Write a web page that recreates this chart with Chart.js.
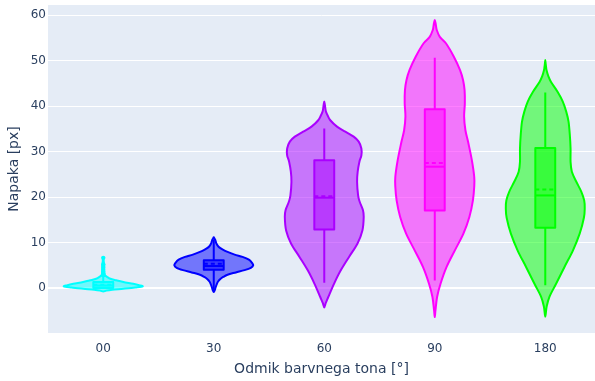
<!DOCTYPE html>
<html lang="sl">
<head>
  <meta charset="UTF-8">
  <title>Napaka glede na odmik barvnega tona</title>
  <script src="https://cdn.jsdelivr.net/npm/chart.js"></script>
  <style>
    body {
      margin: 0;
      background-color: white;
    }
  </style>
</head>
<body>

  <canvas id="violinChart" width="595" height="381"></canvas>

  <script>
    // Kategorije in barve
    const kategorije = ['00', '30', '60', '90', '180'];
    const barve = ['#00FFFF', '#0000FF', '#AA00FF', '#FF00FF', '#00FF00'];

    // Oblike violin: vrednosti napake (od zgoraj navzdol) in relativna polovična širina
    const violinY00 = [6.7, 6.0, 5.0, 4.0, 3.0, 2.5, 2.1, 1.76, 1.4, 1.0, 0.7, 0.44, 0.2, -0.07, -0.3, -0.5, -0.7];
    const violinW00 = [0, .013, .013, .015, .038, .10, .18, .33, .51, .76, .91, 1, .81, .51, .23, .08, 0];
    const violinY30 = [11.2, 10.9, 10.6, 10.0, 9.5, 9.0, 8.5, 8.0, 7.4, 6.9, 6.3, 5.6, 5.05, 4.5, 4.0, 3.5, 3.0, 2.5, 2.0, 1.5, 1.0, 0.3, -0.3, -0.6, -0.8];
    const violinW30 = [0, .02, .04, .06, .09, .14, .23, .35, .53, .73, .89, .97, 1, .94, .78, .56, .35, .24, .16, .11, .08, .05, .03, .015, 0];
    const violinY60 = [41.0, 40.3, 39.5, 38.8, 37.9, 36.9, 35.5, 34.4, 33.3, 32.2, 30.7, 29.2, 27.8, 25.6, 23.4, 20.4, 19.0, 17.2, 15.7, 12.7, 9.8, 6.9, 3.9, 1.0, -1.9, -3.2, -4.2];
    const violinW60 = [0, .015, .028, .043, .089, .153, .323, .534, .746, .873, .941, .941, .891, .847, .832, .858, .898, .98, 1, .967, .84, .628, .415, .247, .102, .038, 0];
    const violinY90 = [58.9, 58.3, 57.5, 56.7, 55.2, 53.8, 50.8, 47.9, 45.7, 43.5, 40.6, 37.7, 34.7, 31.8, 28.1, 24.5, 22.3, 19.3, 15.7, 12.0, 8.4, 4.7, 1.0, -1.9, -4.8, -6.3];
    const violinW90 = [0, .018, .033, .051, .128, .282, .487, .641, .718, .756, .762, .744, .777, .854, .941, 1, 1, .967, .879, .726, .513, .3, .146, .059, .018, 0];
    const violinY180 = [50.1, 49.3, 48.6, 47.9, 46.6, 45.3, 43.1, 41.0, 38.8, 36.6, 33.6, 30.7, 27.8, 25.6, 23.4, 21.2, 19.3, 17.6, 15.5, 12.0, 8.3, 4.7, 1.0, -1.9, -4.1, -6.2];
    const violinW180 = [0, .01, .02, .033, .077, .146, .315, .444, .531, .59, .623, .641, .641, .674, .787, .915, .987, 1, .979, .872, .7, .487, .274, .103, .033, 0];

    // Statistika škatel
    const q1 = [0.1, 4.1, 12.9, 17.1, 13.3];
    const mediana = [0.6, 4.9, 19.9, 26.7, 20.4];
    const povprecje = [0.8, 5.4, 20.2, 27.5, 21.7];
    const q3 = [1.4, 6.15, 28.1, 39.3, 30.8];
    const brkDol = [-0.1, -0.5, 1.25, 1.75, 0.66];
    const brkGor = [2.6, 10.6, 35.1, 50.6, 43.0];

    // Osamelci pri 00
    const osamelci00 = [2.9, 3.3, 3.7, 4.1, 4.5, 4.9, 5.3, 6.7];

    const violinY = [violinY00, violinY30, violinY60, violinY90, violinY180];
    const violinW = [violinW00, violinW30, violinW60, violinW90, violinW180];

    const SIRINA = 0.357;   // največja polovična širina violine (v enotah kategorije)
    const SKATLA = 0.09;    // polovična širina škatle
    const besedilo = '#2a3f5f';

    function rgba(hex, a) {
      const n = parseInt(hex.slice(1), 16);
      return `rgba(${n >> 16},${(n >> 8) & 255},${n & 255},${a})`;
    }

    // zaprta gladka krivulja skozi vse točke
    function krivulja(ctx, pts) {
      const n = pts.length;
      ctx.moveTo(pts[0][0], pts[0][1]);
      for (let k = 0; k < n; k++) {
        const p0 = pts[(k - 1 + n) % n], p1 = pts[k], p2 = pts[(k + 1) % n], p3 = pts[(k + 2) % n];
        ctx.bezierCurveTo(
          p1[0] + (p2[0] - p0[0]) / 6, p1[1] + (p2[1] - p0[1]) / 6,
          p2[0] - (p3[0] - p1[0]) / 6, p2[1] - (p3[1] - p1[1]) / 6,
          p2[0], p2[1]);
      }
      ctx.closePath();
    }

    // brez dodatnega odmika zaradi oznak na robovih
    function brezOdmika(s) {
      s.paddingTop = 0;
      s.paddingBottom = 0;
      s.paddingLeft = 0;
      s.paddingRight = 0;
    }

    // risalna površina naj sega do desnega roba platna
    const doRoba = {
      id: 'doRoba',
      afterLayout(chart) {
        const x = chart.scales.x;
        chart.chartArea.right = chart.width;
        chart.chartArea.width = chart.chartArea.right - chart.chartArea.left;
        x.right = chart.width;
        x.width = x.right - x.left;
        x.configure();
      }
    };

    const ozadje = {
      id: 'ozadje',
      beforeDraw(chart) {
        const { ctx, chartArea: a } = chart;
        ctx.save();
        ctx.fillStyle = '#E5ECF6';
        ctx.fillRect(a.left, a.top, a.right - a.left, a.bottom - a.top);
        ctx.restore();
      }
    };

    const violine = {
      id: 'violine',
      beforeDatasetsDraw(chart) {
        const { ctx, chartArea: a, scales: { x, y } } = chart;
        ctx.save();
        ctx.beginPath();
        ctx.rect(a.left, a.top, a.right - a.left, a.bottom - a.top);
        ctx.clip();

        kategorije.forEach((kat, i) => {
          const ys = violinY[i], ws = violinW[i], barva = barve[i];
          const pts = [];
          for (let k = 0; k < ys.length; k++) {
            pts.push([x.getPixelForValue(i - ws[k] * SIRINA), y.getPixelForValue(ys[k])]);
          }
          for (let k = ys.length - 2; k > 0; k--) {
            pts.push([x.getPixelForValue(i + ws[k] * SIRINA), y.getPixelForValue(ys[k])]);
          }
          ctx.beginPath();
          krivulja(ctx, pts);
          ctx.fillStyle = rgba(barva, 0.5);
          ctx.fill();
          ctx.lineWidth = 2;
          ctx.strokeStyle = barva;
          ctx.lineJoin = 'round';
          ctx.stroke();

          // škatla z brki
          const xc = x.getPixelForValue(i);
          const xl = x.getPixelForValue(i - SKATLA), xr = x.getPixelForValue(i + SKATLA);
          const yq1 = y.getPixelForValue(q1[i]), yq3 = y.getPixelForValue(q3[i]);
          ctx.beginPath();
          ctx.moveTo(xc, yq3);
          ctx.lineTo(xc, y.getPixelForValue(brkGor[i]));
          ctx.moveTo(xc, yq1);
          ctx.lineTo(xc, y.getPixelForValue(brkDol[i]));
          ctx.stroke();

          ctx.fillStyle = rgba(barva, 0.5);
          ctx.fillRect(xl, yq3, xr - xl, yq1 - yq3);
          ctx.strokeRect(xl, yq3, xr - xl, yq1 - yq3);

          const ym = y.getPixelForValue(mediana[i]);
          ctx.beginPath();
          ctx.moveTo(xl, ym);
          ctx.lineTo(xr, ym);
          ctx.stroke();

          const yp = y.getPixelForValue(povprecje[i]);
          ctx.setLineDash([4, 3]);
          ctx.beginPath();
          ctx.moveTo(xl, yp);
          ctx.lineTo(xr, yp);
          ctx.stroke();
          ctx.setLineDash([]);
        });
        ctx.restore();
      }
    };

    Chart.defaults.font.family = '"DejaVu Sans", Verdana, Arial, sans-serif';

    new Chart(document.getElementById('violinChart'), {
      type: 'scatter',
      data: {
        datasets: [{
          data: osamelci00.map(v => ({ x: 0, y: v })),
          backgroundColor: barve[0],
          borderColor: barve[0],
          pointRadius: 2.2,
          borderWidth: 0
        }]
      },
      options: {
        responsive: false,
        devicePixelRatio: 1,
        animation: false,
        layout: { padding: { top: 5, right: 0, bottom: 0, left: 0 } },
        plugins: {
          legend: { display: false },
          tooltip: { enabled: false }
        },
        scales: {
          x: {
            type: 'linear',
            min: -0.5,
            max: 4.45,
            grid: { display: false },
            border: { display: false },
            afterBuildTicks: s => { s.ticks = kategorije.map((_, i) => ({ value: i })); },
            afterFit: s => { s.height = 48; brezOdmika(s); },
            ticks: {
              color: besedilo,
              font: { size: 12 },
              padding: 1,
              callback: v => kategorije[v]
            },
            title: {
              display: true,
              text: 'Odmik barvnega tona [°]',
              color: besedilo,
              font: { size: 14 },
              padding: { top: 0, bottom: 3 }
            }
          },
          y: {
            min: -9.8,
            max: 62.2,
            afterBuildTicks: s => { s.ticks = [0, 10, 20, 30, 40, 50, 60].map(v => ({ value: v })); },
            afterFit: s => { s.width = 48; brezOdmika(s); },
            grid: {
              color: 'white',
              lineWidth: c => c.tick && c.tick.value === 0 ? 2 : 1,
              drawTicks: false
            },
            border: { display: false },
            ticks: {
              color: besedilo,
              font: { size: 12 },
              padding: 2
            },
            title: {
              display: true,
              text: 'Napaka [px]',
              color: besedilo,
              font: { size: 14 },
              padding: { top: 6, bottom: 0 }
            }
          }
        }
      },
      plugins: [doRoba, ozadje, violine]
    });
  </script>

</body>
</html>
